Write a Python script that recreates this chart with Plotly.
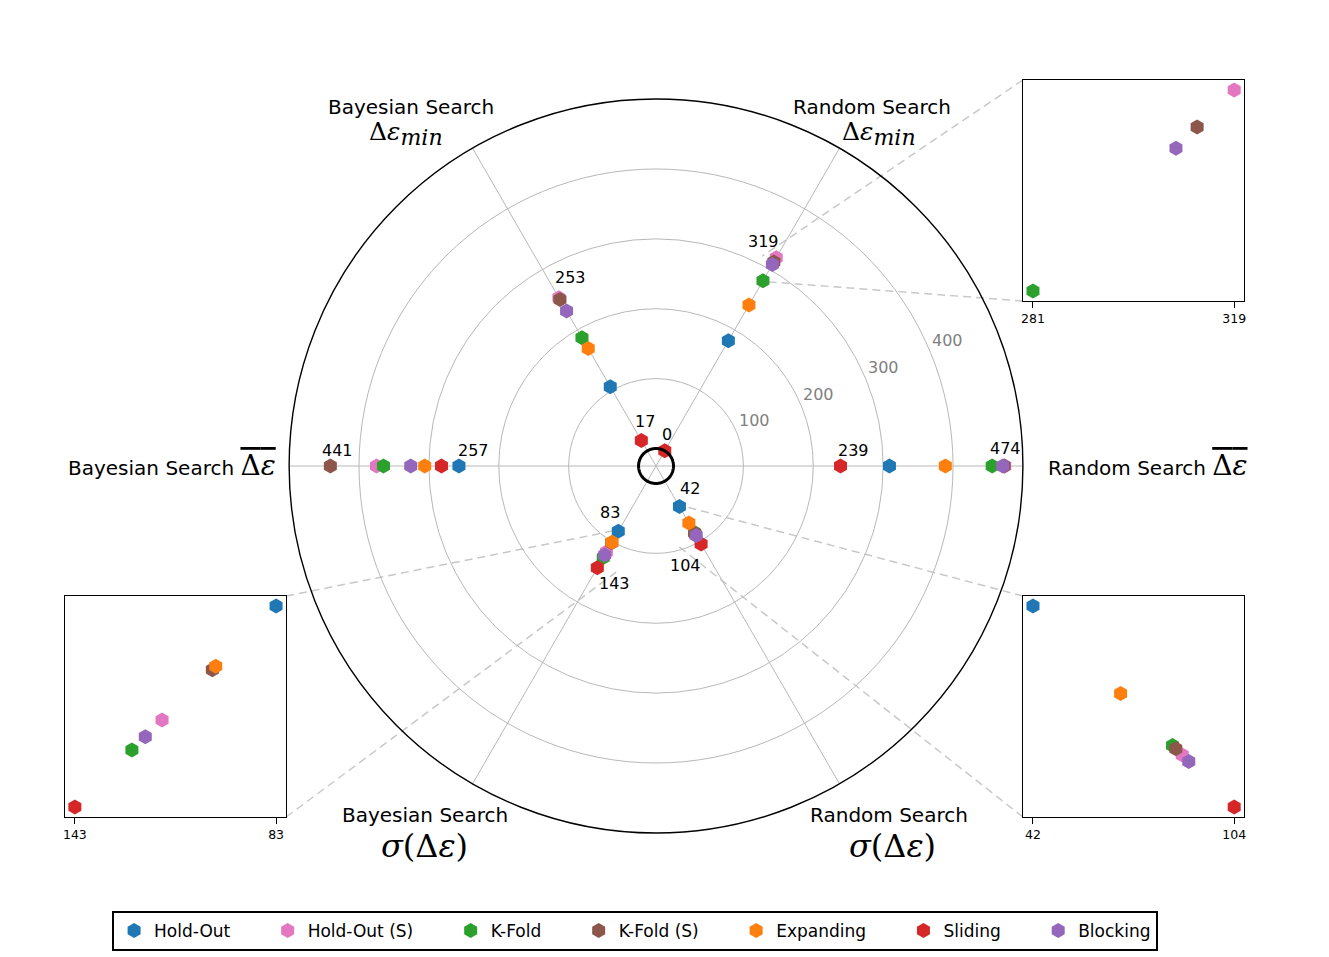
import numpy as np
import plotly.graph_objects as go

W, H = 1329, 957

# ---------------- data ----------------
spoke_angles = [0, 60, 120, 180, 240, 300]
# spoke order: RS mean, RS min, BS min, BS mean, BS std, RS std
methods = ["Hold-Out", "Hold-Out (S)", "K-Fold", "K-Fold (S)", "Expanding", "Sliding", "Blocking"]
colors = ["#1f77b4", "#e377c2", "#2ca02c", "#8c564b", "#ff7f0e", "#d62728", "#9467bd"]

hold_out = [309, 182, 106, 257, 83, 42]
hold_out_s = [474, 319, 253, 375, 117, 88]
k_fold = [456, 281, 187, 365, 126, 85]
k_fold_s = [473, 312, 250, 441, 102, 86]
expanding = [389, 241, 169, 306, 101, 69]
sliding = [239, 0, 17, 282, 143, 104]
blocking = [471, 308, 231, 326, 122, 90]

series = [hold_out, hold_out_s, k_fold, k_fold_s, expanding, sliding, blocking]

radial_ticks = [100, 200, 300, 400]
r_range = [-25, 500]

# zoomed value ranges shown in the insets (spoke index, low, high)
inset_spokes = [1, 4, 5]
inset_low = [281, 83, 42]
inset_high = [319, 143, 104]

# ---------------- geometry ----------------
CX, CY, R = 656, 466, 368  # polar centre / radius in page px


def to_px(r, theta):
    rho = R * (r - r_range[0]) / (r_range[1] - r_range[0])
    t = np.deg2rad(theta)
    return CX + rho * np.cos(t), CY - rho * np.sin(t)


def px2paper(x, y):
    return x / W, 1 - y / H


fig = go.Figure()

# main polar markers
for name, vals, col in zip(methods, series, colors):
    fig.add_trace(go.Scatterpolar(
        r=vals, theta=spoke_angles, mode="markers", name=name + "\u00a0" * (0 if name == methods[-1] else 6),
        marker=dict(symbol="hexagon", size=15, color=col, line=dict(width=0)),
        subplot="polar", cliponaxis=False))

# centre ring at r = 0
ring_theta = np.linspace(0, 360, 361)
fig.add_trace(go.Scatterpolar(r=[0] * len(ring_theta), theta=ring_theta, mode="lines",
                              line=dict(color="black", width=3), showlegend=False,
                              hoverinfo="skip", subplot="polar"))

annotations = []

# min / max value labels (offsets in px relative to the point)
label_off = {
    (0, "min"): (13, 15), (0, "max"): (1, 17),
    (1, "min"): (2, 16), (1, "max"): (-13, 16),
    (2, "min"): (4, 19), (2, "max"): (12, 20),
    (3, "min"): (15, 15), (3, "max"): (7, 15),
    (4, "min"): (-8, 19), (4, "max"): (17, -16),
    (5, "min"): (11, 18), (5, "max"): (-16, -21),
}
for i, ang in enumerate(spoke_angles):
    col_vals = [s[i] for s in series]
    for kind, v in (("min", min(col_vals)), ("max", max(col_vals))):
        px, py = px2paper(*to_px(v, ang))
        xs_, ys_ = label_off[(i, kind)]
        annotations.append(dict(text=str(v), x=px, y=py, xref="paper", yref="paper",
                                xanchor="center", yanchor="middle", xshift=xs_, yshift=ys_,
                                showarrow=False,
                                font=dict(family="DejaVu Sans", size=16, color="black")))

# radial tick labels (horizontal, gray)
for v in radial_ticks:
    px, py = px2paper(*to_px(v, 22.5))
    annotations.append(dict(text=str(v), x=px, y=py, xref="paper", yref="paper",
                            xanchor="left", yanchor="bottom", showarrow=False,
                            font=dict(family="DejaVu Sans", size=16, color="#808080")))

# ---------------- insets ----------------
inset_boxes = [(1024, 80, 1246, 301), (63, 596, 285, 817), (1024, 596, 1246, 817)]
inset_sides = ["left", "right", "left"]

shapes = []
layout_axes = {}
for k in range(1, 4):
    i = inset_spokes[k - 1]
    lo, hi = inset_low[k - 1], inset_high[k - 1]
    ang = spoke_angles[i]
    plo = to_px(lo, ang)
    phi = to_px(hi, ang)
    xmin, xmax = min(plo[0], phi[0]), max(plo[0], phi[0])
    ymin, ymax = min(plo[1], phi[1]), max(plo[1], phi[1])
    mx = 0.05 * (xmax - xmin)
    my = 0.05 * (ymax - ymin)
    xr = [xmin - mx, xmax + mx]
    yr = [ymax + my, ymin - my]  # px y grows downwards
    for name, s, col in zip(methods, series, colors):
        if lo <= s[i] <= hi:
            x, y = to_px(s[i], ang)
            fig.add_trace(go.Scatter(
                x=[x], y=[y], mode="markers", showlegend=False, name=name,
                marker=dict(symbol="hexagon", size=15, color=col, line=dict(width=0)),
                xaxis=f"x{k}", yaxis=f"y{k}", cliponaxis=False))
    if plo[0] < phi[0]:
        tv, tt = [plo[0], phi[0]], [str(lo), str(hi)]
    else:
        tv, tt = [phi[0], plo[0]], [str(hi), str(lo)]
    x0b, y0b, x1b, y1b = inset_boxes[k - 1]
    dx = [x0b / W, x1b / W]
    dy = [1 - y1b / H, 1 - y0b / H]
    axcommon = dict(showgrid=False, zeroline=False, showline=True, mirror=True,
                    linecolor="black", linewidth=1.3)
    layout_axes[f"xaxis{k}"] = dict(domain=dx, range=xr, anchor=f"y{k}",
                                    tickmode="array", tickvals=tv, ticktext=tt,
                                    ticks="outside", ticklen=6, tickcolor="black",
                                    tickfont=dict(family="DejaVu Sans", size=12.5, color="black"),
                                    **axcommon)
    layout_axes[f"yaxis{k}"] = dict(domain=dy, range=yr, anchor=f"x{k}",
                                    showticklabels=False, ticks="", **axcommon)
    # connector lines (inset corner -> zoom region corner)
    side = inset_sides[k - 1]
    rx = xr[0] if side == "left" else xr[1]
    bx = x0b if side == "left" else x1b
    for (ry, by) in ((yr[1], y0b), (yr[0], y1b)):
        p0 = px2paper(bx, by)
        p1 = px2paper(rx, ry)
        shapes.append(dict(type="line", xref="paper", yref="paper",
                           x0=p0[0], y0=p0[1], x1=p1[0], y1=p1[1], layer="below",
                           line=dict(color="#c8c8c8", width=1.5, dash="8px,5px")))

# ---------------- spoke labels ----------------
sans = dict(family="DejaVu Sans", size=20, color="black")
SERIF = "font-family:'DejaVu Serif'"
mean_math = f"<span style=\"{SERIF};font-size:28px;text-decoration:overline\">Δ<i>ε</i></span>"
min_math = (f"<span style=\"{SERIF};font-size:25px\">Δ<i>ε</i><sub>"
            f"<span style=\"{SERIF};font-size:22px\"><i>min</i></span></sub></span>")
std_math = f"<span style=\"{SERIF};font-size:32px\"><i>σ</i>(Δ<i>ε</i>)</span>"

ann_specs = [
    ("Random Search " + mean_math, 1047, 466, "left"),
    ("Bayesian Search " + mean_math, 277, 466, "right"),
    ("Random Search", 873, 107, "center"),
    (min_math, 880, 133, "center"),
    ("Bayesian Search", 410, 107, "center"),
    (min_math, 405, 133, "center"),
    ("Bayesian Search", 424, 815, "center"),
    (std_math, 424, 846, "center"),
    ("Random Search", 890, 815, "center"),
    (std_math, 893, 846, "center"),
]
for txt, x, y, xa in ann_specs:
    px, py = px2paper(x, y)
    annotations.append(dict(text=txt, x=px, y=py, xref="paper", yref="paper",
                            xanchor=xa, yanchor="middle", showarrow=False, font=sans))

fig.update_layout(
    width=W, height=H, margin=dict(l=0, r=0, t=0, b=0),
    paper_bgcolor="white", plot_bgcolor="white",
    font=dict(family="DejaVu Sans", color="black"),
    polar=dict(
        domain=dict(x=[(CX - R) / W, (CX + R) / W], y=[1 - (CY + R) / H, 1 - (CY - R) / H]),
        bgcolor="rgba(0,0,0,0)",
        radialaxis=dict(range=r_range, tickmode="array", tickvals=radial_ticks,
                        showline=False, ticks="", showticklabels=False,
                        gridcolor="#b8b8b8", gridwidth=1.3),
        angularaxis=dict(rotation=0, direction="counterclockwise", tickmode="array",
                         tickvals=spoke_angles, showticklabels=False, ticks="",
                         showgrid=True, gridcolor="#b8b8b8", gridwidth=1.3,
                         showline=True, linecolor="black", linewidth=1.4),
    ),
    legend=dict(orientation="h", x=635 / W, xanchor="center", y=1 - 931 / H, yanchor="middle",
                bordercolor="black", borderwidth=2, bgcolor="white",
                font=dict(family="DejaVu Sans", size=17, color="black")),
    shapes=shapes,
    annotations=annotations,
    **layout_axes,
)

fig.write_html("out.html", config={"displayModeBar": False},
               post_script="document.body.style.margin='0';")
